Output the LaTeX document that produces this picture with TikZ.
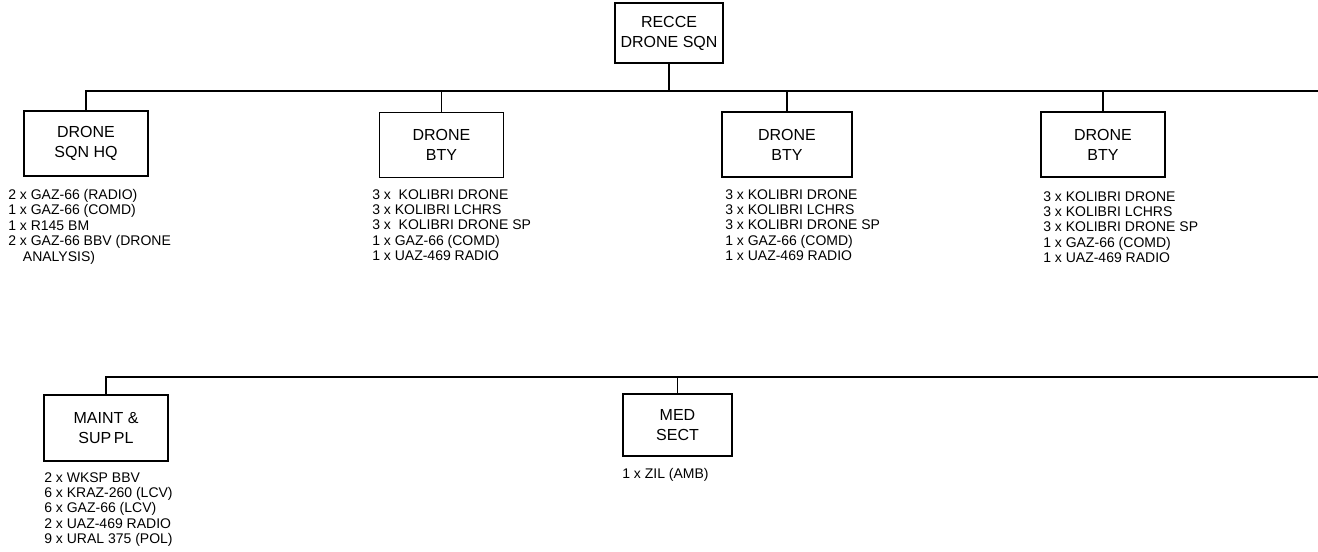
\documentclass[tikz,border=0pt]{standalone}
\usepackage{fontspec}
\setmainfont{Liberation Sans}

\begin{document}
\begin{tikzpicture}[x=0.75pt, y=-0.75pt,
  unitbox/.style={draw, line width=0.8pt, inner sep=0pt, align=center,
    minimum width=93pt, minimum height=48.75pt,
    font=\fontsize{12}{15}\selectfont},
  eqlist/.style={anchor=north west, inner sep=0pt, align=left,
    font=\fontsize{10.5}{11.6}\selectfont},
  link/.style={line width=0.8pt}]
  \useasboundingbox (0,0) rectangle (1318,552);

  % the units
  \node[unitbox, minimum width=81pt, minimum height=45pt] (sqn) at (669,33) {RECCE\\DRONE SQN};
  \node[unitbox] (hq) at (86,143.5) {DRONE\\SQN HQ};
  \node[unitbox] (bty1) at (441.5,145) {DRONE\\BTY};
  \node[unitbox, minimum width=97.5pt] (bty2) at (787,144.5) {DRONE\\BTY};
  \node[unitbox] (bty3) at (1103,144.5) {DRONE\\BTY};
  \node[unitbox, minimum height=49.5pt] (maint) at (106,428) {MAINT \&\\SUP\,PL};
  \node[unitbox, minimum width=81.75pt, minimum height=46.5pt] (med) at (677.5,425) {MED\\SECT};

  % the equipment under each unit
  \node[eqlist] (hqeq) at (8,189) {2 x GAZ-66 (RADIO)\\1 x GAZ-66 (COMD)\\1 x R145 BM\\2 x GAZ-66 BBV (DRONE\\\hspace*{11pt}ANALYSIS)};
  \node[eqlist] (bty1eq) at (372,189) {3 x\ \ KOLIBRI DRONE\\3 x KOLIBRI LCHRS\\3 x\ \ KOLIBRI DRONE SP\\1 x GAZ-66 (COMD)\\1 x UAZ-469 RADIO};
  \node[eqlist] (bty2eq) at (725,189) {3 x KOLIBRI DRONE\\3 x KOLIBRI LCHRS\\3 x KOLIBRI DRONE SP\\1 x GAZ-66 (COMD)\\1 x UAZ-469 RADIO};
  \node[eqlist] (bty3eq) at (1043,191) {3 x KOLIBRI DRONE\\3 x KOLIBRI LCHRS\\3 x KOLIBRI DRONE SP\\1 x GAZ-66 (COMD)\\1 x UAZ-469 RADIO};
  \node[eqlist] (mainteq) at (44,472) {2 x WKSP BBV\\6 x KRAZ-260 (LCV)\\6 x GAZ-66 (LCV)\\2 x UAZ-469 RADIO\\9 x URAL 375 (POL)};
  \node[eqlist] (medeq) at (622,468) {1 x ZIL (AMB)};

  % the right ends of the two buses
  \coordinate (topbus) at (1318,91);
  \coordinate (lowbus) at (1318,377);

  % draw the lines
  \draw[link] (sqn.south) -- (sqn.south |- topbus);
  \draw[link] (hq.north) |- (topbus);
  \foreach \unit in {bty1,bty2,bty3}
    \draw[link] (\unit.north) -- (\unit.north |- topbus);
  \draw[link] (maint.north) |- (lowbus);
  \draw[link] (med.north) -- (med.north |- lowbus);
\end{tikzpicture}
\end{document}
